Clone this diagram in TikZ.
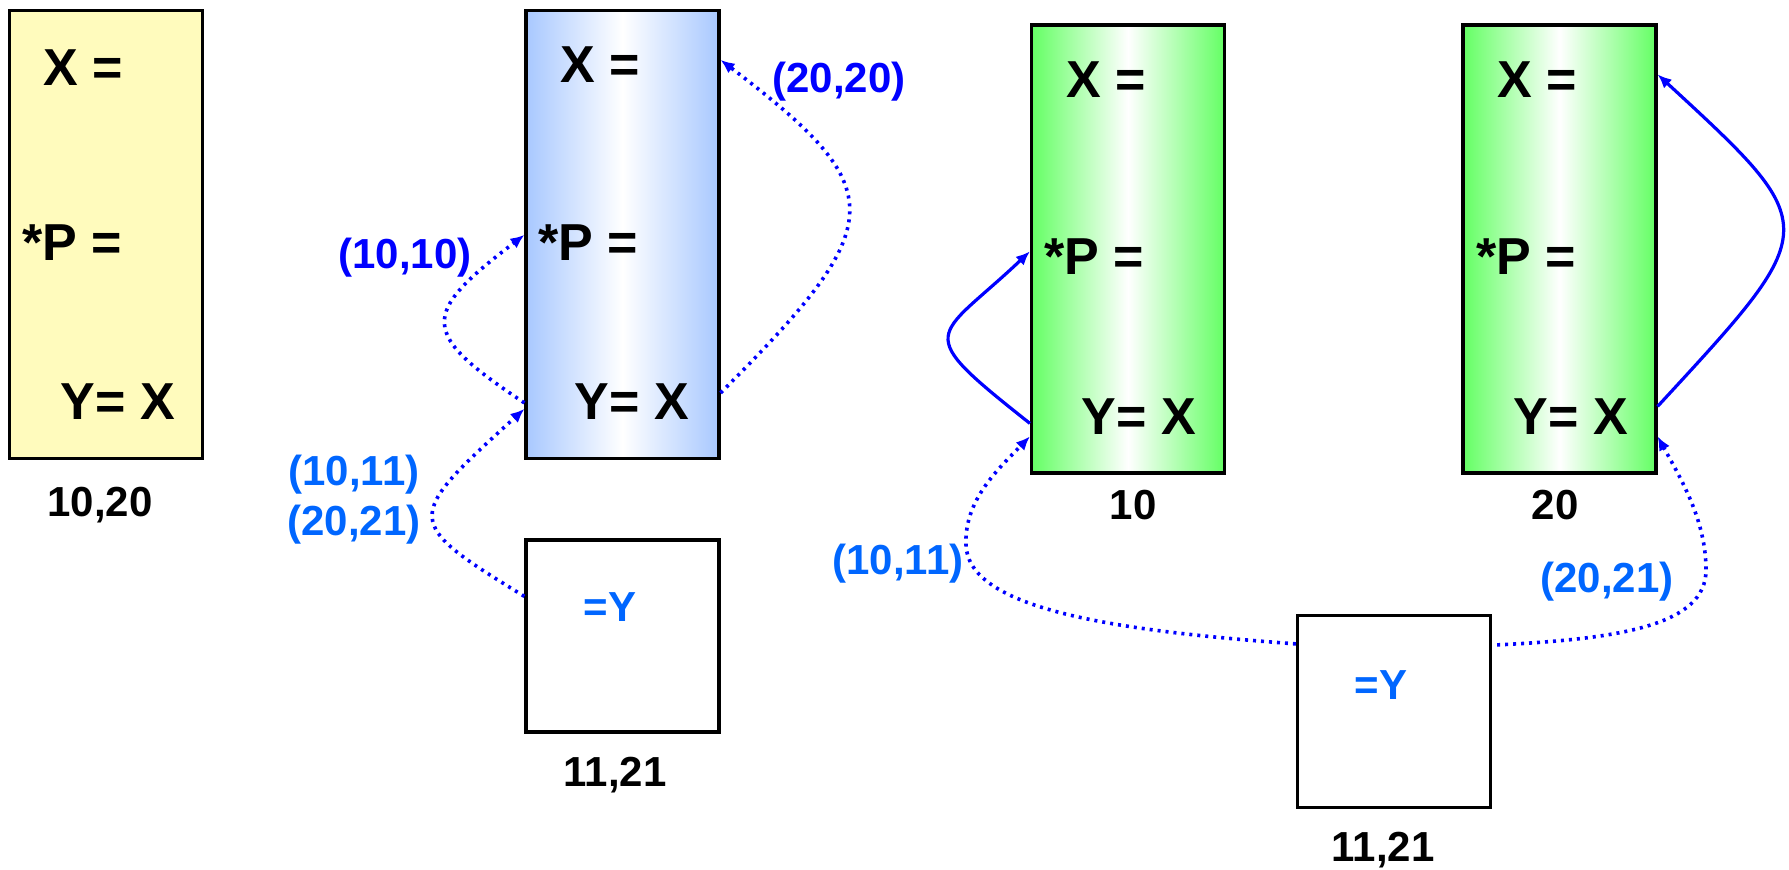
\documentclass[tikz,border=0pt]{standalone}
\usepackage{fontspec}
\setmainfont{Liberation Sans}
\usetikzlibrary{arrows.meta,calc}

\definecolor{memyellow}{RGB}{255,251,189}
\definecolor{memblue}{RGB}{168,200,255}
\definecolor{memgreen}{RGB}{100,255,100}
\definecolor{ptrblue}{RGB}{0,0,255}
\definecolor{pairblue}{RGB}{0,102,255}

\begin{document}
\begin{tikzpicture}[
  x=0.5pt, y=-0.5pt,
  frame/.style={draw, line width=1.6pt, inner sep=0pt, minimum width=96.5pt, minimum height=224pt},
  cell/.style={draw, line width=1.6pt, inner sep=0pt, minimum width=96.5pt, minimum height=96pt, fill=white},
  stmt/.style={font=\fontsize{26}{30}\selectfont\bfseries, inner sep=0pt},
  addr/.style={font=\fontsize{21}{25}\selectfont\bfseries, inner sep=0pt},
  pair/.style={addr, text=ptrblue},
  guess/.style={addr, text=pairblue, align=center},
  ptr/.style={-{Latex[length=7pt,width=6pt]}, draw=ptrblue, line width=1.6pt},
  dotptr/.style={ptr, line width=1.8pt, dash pattern=on 1.5pt off 2.5pt}
]
\useasboundingbox (0,0) rectangle (1789,870);

\node[frame, fill=memyellow] (plain) at (106,234.5) {};
\node[stmt] (yX) at (83,68) {X =};
\node[stmt] (yP) at (72,243) {*P =};
\node[stmt] (yY) at (118,402) {Y= X};
\node[addr] (yaddr) at (100,505) {10,20};

\node[frame, left color=memblue, right color=memblue, middle color=white] (blue) at (622.5,234.5) {};
\node[stmt] (bX) at (600,65) {X =};
\node[stmt] (bP) at (588,243) {*P =};
\node[stmt] (bY) at (632,402) {Y= X};
\node[cell] (bcell) at (622.5,636) {};
\node[guess] (beq) at (610,607) {=Y};
\node[addr] (baddr) at (615,775) {11,21};

\node[pair] (p2020) at (839,82) {(20,20)};
\node[pair] (p1010) at (405,258) {(10,10)};
\node[guess] (pboth) at (354,500) {(10,11)\\(20,21)};

\node[frame, left color=memgreen, right color=memgreen, middle color=white] (gone) at (1128,249) {};
\node[stmt] (g1X) at (1106,80) {X =};
\node[stmt] (g1P) at (1094,257) {*P =};
\node[stmt] (g1Y) at (1139,417) {Y= X};
\node[addr] (g1addr) at (1133,505) {10};

\node[frame, left color=memgreen, right color=memgreen, middle color=white] (gtwo) at (1559.5,249) {};
\node[stmt] (g2X) at (1537,80) {X =};
\node[stmt] (g2P) at (1526,257) {*P =};
\node[stmt] (g2Y) at (1571,417) {Y= X};
\node[addr] (g2addr) at (1555,505) {20};

\node[cell] (gcell) at (1394,711.5) {};
\node[guess] (geq) at (1381,685) {=Y};
\node[addr] (gaddr) at (1383,850) {11,21};
\node[guess] (p1011) at (898,564) {(10,11)};
\node[guess] (p2021) at (1607,582) {(20,21)};

\draw[dotptr] ($(blue.north west)+(0,394)$) .. controls +(-105,-70) and +(-105,80) .. ($(blue.north west)+(0,226)$);
\draw[dotptr] ($(bcell.north west)+(0,58)$) .. controls +(-122,-75) and +(-121,110) .. ($(blue.north west)+(0,400)$);
\draw[dotptr] ($(blue.north east)+(0,384)$) .. controls +(170,-170) and +(171,130) .. ($(blue.north east)+(0,51)$);

\draw[ptr] ($(gone.north west)+(0,400)$) .. controls +(-120,-95) and +(-95,90) .. ($(gone.north west)+(0,228)$);
\draw[ptr] ($(gtwo.north east)+(0,383)$) .. controls +(166,-180) and +(167,154) .. ($(gtwo.north east)+(0,51)$);

\draw[dotptr] ($(gcell.north west)+(0,30)$) .. controls +(-177,-13) and +(2,65) .. (966,545)
  .. controls +(-2,-45) and +(-31,32) .. ($(gone.north west)+(0,413)$);
\draw[dotptr] ($(gcell.north east)+(5,31)$) .. controls +(124,-6) and +(0,55) .. (1706,570)
  .. controls +(0,-50) and +(23,42) .. ($(gtwo.north east)+(0,413)$);
\end{tikzpicture}
\end{document}
